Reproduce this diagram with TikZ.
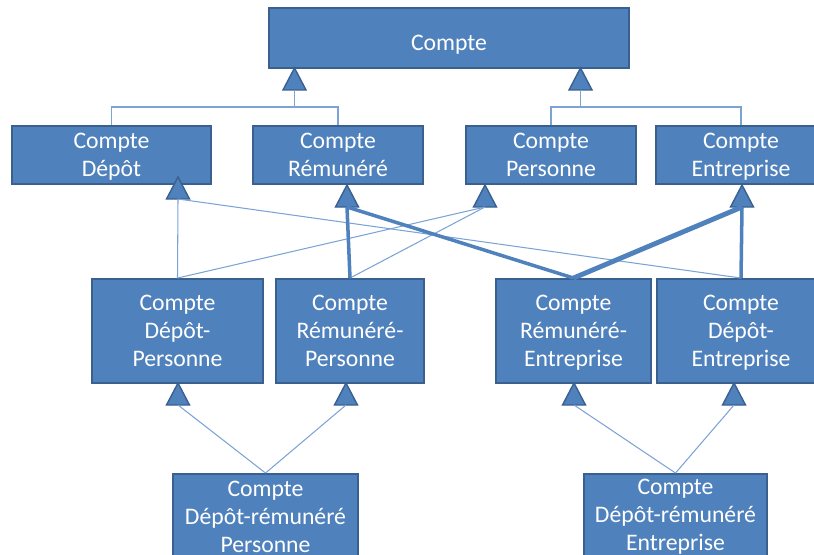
\documentclass[tikz,border=0pt]{standalone}
\usepackage{fontspec}
\setmainfont{Carlito}

\definecolor{boxblue}{HTML}{4F81BD}
\definecolor{boxline}{HTML}{3A6090}
\definecolor{linkblue}{HTML}{7CA3D6}

% inheritance triangle: tip at #2, centre of its base named #1
\newcommand{\gentri}[2]{%
	\draw[tri] (#2) -- ++(-11.5,22) -- ++(23,0) -- cycle;
	\path (#2) ++(0,22) coordinate (#1);
}

\begin{document}
\begin{tikzpicture}[
		x=0.02cm, y=-0.02cm,
		box/.style={draw=boxline, line width=1.1pt, fill=boxblue, text=white,
			align=center, inner sep=0pt, font=\fontsize{13.5}{16}\selectfont,
			execute at begin node={\rule{0pt}{14pt}}},
		low/.style={text depth=0pt},
		tri/.style={draw=boxline, line width=0.8pt, fill=boxblue},
		link/.style={draw=linkblue, line width=0.6pt},
		strong/.style={draw=boxblue, line width=2pt},
		stronger/.style={draw=boxblue, line width=2.8pt}
	]
	\useasboundingbox (0,0) rectangle (814,554);
	\clip (0,0) rectangle (814,554);

	\node[box, low, minimum width=7.2cm, minimum height=1.2cm] (cpt) at (449,38) {Compte};

	\node[box, low, minimum width=3.98cm, minimum height=1.16cm] (dep) at (111.5,155) {Compte\\Dépôt};
	\node[box, low, minimum width=3.4cm, minimum height=1.16cm] (rem) at (338,155) {Compte\\Rémunéré};
	\node[box, low, minimum width=3.4cm, minimum height=1.16cm] (per) at (551,155) {Compte\\Personne};
	\node[box, low, minimum width=3.4cm, minimum height=1.16cm] (ent) at (741,155) {Compte\\Entreprise};

	\node[box, low, minimum width=3.42cm, minimum height=2.08cm] (dp) at (177.5,331) {Compte\\Dépôt-\\Personne};
	\node[box, low, minimum width=2.96cm, minimum height=2.08cm] (rp) at (350,331) {Compte\\Rémunéré-\\Personne};
	\node[box, low, minimum width=3.1cm, minimum height=2.08cm] (re) at (573.5,331) {Compte\\Rémunéré-\\Entreprise};
	\node[box, low, minimum width=3.36cm, minimum height=2.08cm] (de) at (741,331) {Compte\\Dépôt-\\Entreprise};

	\node[box, minimum width=3.7cm, minimum height=1.72cm] (drp) at (265.5,517) {Compte\\Dépôt-rémunéré\\Personne};
	\node[box, minimum width=3.66cm, minimum height=1.72cm] (dre) at (675.5,517) {Compte\\Dépôt-rémunéré\\Entreprise};

	% triangles
	\gentri{tC1}{294.5,68}
	\gentri{tC2}{580.5,68}
	\gentri{tDep}{178,177}
	\gentri{tRem}{347,185}
	\gentri{tPer}{485,185}
	\gentri{tEnt}{742,185}
	\gentri{tDP}{178,383}
	\gentri{tRP}{346,383}
	\gentri{tRE}{574,383}
	\gentri{tDE}{734,383}

	% first level
	\coordinate (j1) at (294.5,107);
	\coordinate (j2) at (580.5,107);
	\draw[link] (tC1) -- (j1);
	\draw[link] (dep.north) |- (j1) -| (rem.north);
	\draw[link] (tC2) -- (j2);
	\draw[link] (per.north) |- (j2) -| (ent.north);

	% second level
	\draw[link] (dp.north) -- (tDep);
	\draw[link] (dp.north) -- (tPer);
	\draw[link] (rp.north) -- (tPer);
	\draw[link] (de.north) -- (tDep);
	\draw[strong] (rp.north) -- (tRem);
	\draw[strong] (re.north) -- (tRem);
	\draw[stronger] (re.north) -- (tEnt);
	\draw[strong] (de.north) -- (tEnt);

	% third level
	\draw[link] (drp.north) -- (tDP);
	\draw[link] (drp.north) -- (tRP);
	\draw[link] (dre.north) -- (tRE);
	\draw[link] (dre.north) -- (tDE);
\end{tikzpicture}
\end{document}
